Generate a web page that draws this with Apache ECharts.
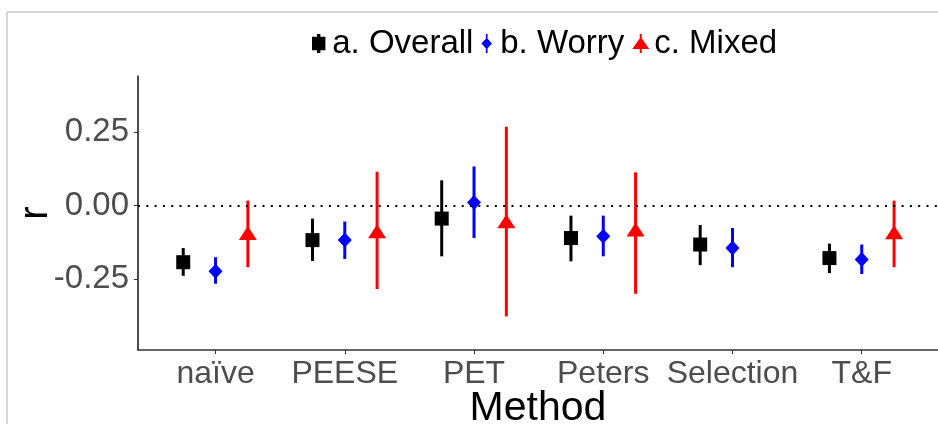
<!DOCTYPE html>
<html>
<head>
<meta charset="utf-8">
<script src="https://cdn.jsdelivr.net/npm/echarts@6/dist/echarts.min.js"></script>
<style>
  html, body { margin: 0; padding: 0; background: #fff; }
  #chart { width: 938px; height: 424px; }
</style>
</head>
<body>
<div id="chart"></div>
<script>
// methods along the x axis
const methods = ['naïve', 'PEESE', 'PET', 'Peters', 'Selection', 'T&F'];
const yTicks = [-0.25, 0, 0.25];

// a. Overall
const overallEst = [-0.192, -0.117, -0.044, -0.110, -0.132, -0.178];
const overallLo  = [-0.238, -0.188, -0.172, -0.189, -0.202, -0.229];
const overallHi  = [-0.144, -0.044,  0.086, -0.034, -0.066, -0.129];
// b. Worry
const worryEst = [-0.223, -0.117,  0.011, -0.104, -0.144, -0.183];
const worryLo  = [-0.265, -0.181, -0.110, -0.172, -0.209, -0.232];
const worryHi  = [-0.175, -0.054,  0.133, -0.034, -0.076, -0.132];
// c. Mixed (no Selection estimate)
const mixedEst = [-0.093, -0.087, -0.053, -0.081, null, -0.090];
const mixedLo  = [-0.209, -0.283, -0.376, -0.299, null, -0.209];
const mixedHi  = [ 0.017,  0.115,  0.268,  0.113, null,  0.017];

// dodge offset of each group inside a method
const dodge = [-0.25, 0, 0.25];

const FONT = 'Liberation Sans, Arial, sans-serif';

const groups = [
  { name: 'a. Overall', est: overallEst, lo: overallLo, hi: overallHi, color: '#000000',
    symbol: 'rect', size: 14,
    icon: 'path://M4.5,0H7.5V17H4.5Z M0,2.5H12V14.5H0Z' },
  { name: 'b. Worry', est: worryEst, lo: worryLo, hi: worryHi, color: '#0000FF',
    symbol: 'diamond', size: [14, 15],
    icon: 'path://M4.2,0H5.8V18H4.2Z M5,3.5L10,9L5,14.5L0,9Z' },
  { name: 'c. Mixed', est: mixedEst, lo: mixedLo, hi: mixedHi, color: '#FF0000',
    symbol: 'triangle', size: [18, 14],
    icon: 'path://M7.5,0H9.5V19H7.5Z M8.5,3L17,15H0Z' }
];

const series = [];
groups.forEach((g, gi) => {
  const bars = [];
  const pts = [];
  methods.forEach((m, i) => {
    if (g.est[i] == null) return;
    const x = i + 1 + dodge[gi];
    bars.push([x, g.lo[i], g.hi[i]]);
    pts.push([x, g.est[i]]);
  });
  series.push({
    name: g.name,
    type: 'custom',
    z: 2,
    silent: true,
    itemStyle: { color: g.color },
    encode: { x: 0, y: [1, 2] },
    data: bars,
    renderItem: function (params, api) {
      const a = api.coord([api.value(0), api.value(1)]);
      const b = api.coord([api.value(0), api.value(2)]);
      return {
        type: 'line',
        shape: { x1: a[0], y1: a[1], x2: b[0], y2: b[1] },
        style: { stroke: g.color, lineWidth: 3 }
      };
    }
  });
  const s = {
    name: g.name,
    type: 'scatter',
    z: 3,
    symbol: g.symbol,
    symbolSize: g.size,
    itemStyle: { color: g.color, opacity: 1 },
    data: pts
  };
  if (gi === 0) {
    // dotted reference line at r = 0
    s.markLine = {
      silent: true,
      symbol: 'none',
      label: { show: false },
      lineStyle: { color: '#000', width: 2, type: [2, 6.3] },
      data: [{ yAxis: 0 }]
    };
  }
  series.push(s);
});

const chart = echarts.init(document.getElementById('chart'));
chart.setOption({
  animation: false,
  backgroundColor: '#fff',
  grid: { left: 138, right: 0, top: 76, bottom: 74, outerBoundsMode: 'none', containLabel: false },
  legend: {
    left: 307,
    top: 22,
    itemWidth: 17,
    itemHeight: 19,
    itemGap: 8,
    textStyle: { fontSize: 33, fontFamily: FONT, color: '#000' },
    data: groups.map(g => ({ name: g.name, icon: g.icon, itemStyle: { color: g.color } }))
  },
  xAxis: {
    type: 'value',
    min: 0.4,
    max: 6.59,
    name: 'Method',
    nameLocation: 'middle',
    nameGap: 38,
    nameMoveOverlap: false,
    nameTextStyle: { fontSize: 41, fontFamily: FONT, color: '#000' },
    splitLine: { show: false },
    axisLine: { onZero: false, lineStyle: { color: '#333', width: 1.5 } },
    axisTick: { customValues: [1, 2, 3, 4, 5, 6], length: 4, lineStyle: { color: '#333' } },
    axisLabel: {
      customValues: [1, 2, 3, 4, 5, 6],
      formatter: v => methods[Math.round(v) - 1],
      fontSize: 32, fontFamily: FONT, color: '#4D4D4D', margin: 8
    }
  },
  yAxis: {
    type: 'value',
    min: -0.49,
    max: 0.44,
    name: 'r',
    nameLocation: 'middle',
    nameRotate: 90,
    nameGap: 82,
    nameMoveOverlap: false,
    nameTextStyle: { fontSize: 40, fontFamily: FONT, color: '#000' },
    splitLine: { show: false },
    axisLine: { show: true, onZero: false, lineStyle: { color: '#111', width: 1.5 } },
    axisTick: { show: true, customValues: yTicks, length: 4, lineStyle: { color: '#333' } },
    axisLabel: {
      customValues: yTicks,
      formatter: v => v.toFixed(2),
      fontSize: 33, fontFamily: FONT, color: '#4D4D4D', margin: 9
    }
  },
  graphic: [
    { type: 'line', silent: true, shape: { x1: 7, y1: 12, x2: 938, y2: 12 },
      style: { stroke: '#c8c8c8', lineWidth: 1.5 } },
    { type: 'line', silent: true, shape: { x1: 7, y1: 12, x2: 7, y2: 424 },
      style: { stroke: '#c8c8c8', lineWidth: 1.5 } }
  ],
  series: series
});
</script>
</body>
</html>
